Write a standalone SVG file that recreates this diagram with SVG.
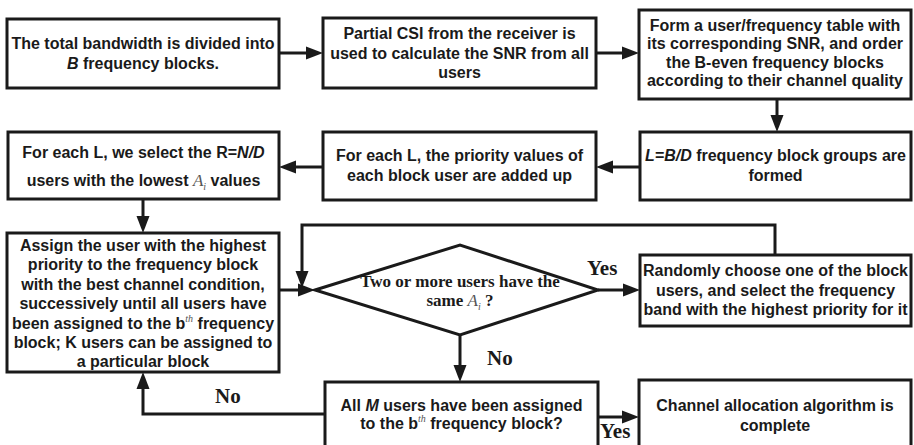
<svg xmlns="http://www.w3.org/2000/svg" width="914" height="445" viewBox="0 0 914 445">
<style>
.box{fill:#fff;stroke:#1a1a1a;stroke-width:3}
.t{font-family:"Liberation Sans",Arial,sans-serif;font-weight:bold;font-size:16px;text-anchor:middle;fill:#1a1a1a}
.s{font-family:"Liberation Serif","Times New Roman",serif;font-weight:bold;font-size:17px;text-anchor:middle;fill:#1a1a1a}
.lbl{font-family:"Liberation Serif","Times New Roman",serif;font-weight:bold;font-size:21px;fill:#1a1a1a}
.m{font-family:"Liberation Serif","Times New Roman",serif;font-style:italic;font-weight:normal;fill:#555}
.c{fill:none;stroke:#1a1a1a;stroke-width:3}
</style>
<defs>
<marker id="ah" markerUnits="userSpaceOnUse" markerWidth="18" markerHeight="16" viewBox="0 -8 18 16" refX="0" refY="0" orient="auto">
<path d="M0,-6.5 L17,0 L0,6.5 Z" fill="#1a1a1a"/>
</marker>
</defs>

<g id="connectors">
<line class="c" x1="279" y1="53" x2="306" y2="53" marker-end="url(#ah)"/>
<line class="c" x1="596" y1="53" x2="622" y2="53" marker-end="url(#ah)"/>
<line class="c" x1="777" y1="99" x2="777" y2="115" marker-end="url(#ah)"/>
<line class="c" x1="640" y1="167" x2="613" y2="167" marker-end="url(#ah)"/>
<line class="c" x1="323" y1="167" x2="296" y2="167" marker-end="url(#ah)"/>
<line class="c" x1="143" y1="199" x2="143" y2="216" marker-end="url(#ah)"/>
<line class="c" x1="279" y1="290" x2="298" y2="290" marker-end="url(#ah)"/>
<line class="c" x1="598" y1="290" x2="623" y2="290" marker-end="url(#ah)"/>
<polyline class="c" points="775,255 775,225 302,225 302,271" marker-end="url(#ah)"/>
<line class="c" x1="460" y1="335" x2="460" y2="365" marker-end="url(#ah)"/>
<polyline class="c" points="325,414 143,414 143,389" marker-end="url(#ah)"/>
<line class="c" x1="598" y1="417" x2="622" y2="417" marker-end="url(#ah)"/>
<text class="lbl" x="587" y="275">Yes</text>
<text class="lbl" x="487" y="365">No</text>
<text class="lbl" x="215" y="403">No</text>
<text class="lbl" x="600" y="438" font-size="20">Yes</text>
</g>

<g id="n1">
<rect class="box" x="7" y="19" width="272" height="69"/>
<text class="t" x="143" y="49">The total bandwidth is divided into</text>
<text class="t" x="143" y="69"><tspan font-style="italic">B</tspan> frequency blocks.</text>
</g>

<g id="n2">
<rect class="box" x="323" y="18" width="273" height="70"/>
<text class="t" x="459.5" y="39">Partial CSI from the receiver is</text>
<text class="t" x="459.5" y="58.5">used to calculate the SNR from all</text>
<text class="t" x="459.5" y="78">users</text>
</g>

<g id="n3">
<rect class="box" x="639" y="10" width="272" height="89"/>
<text class="t" x="775" y="30.5">Form a user/frequency table with</text>
<text class="t" x="775" y="49">its corresponding SNR, and order</text>
<text class="t" x="775" y="67.5">the B-even frequency blocks</text>
<text class="t" x="775" y="86">according to their channel quality</text>
</g>

<g id="n4">
<rect class="box" x="640" y="132" width="271" height="68"/>
<text class="t" x="775.5" y="161"><tspan font-style="italic">L=B/D</tspan> frequency block groups are</text>
<text class="t" x="775.5" y="181">formed</text>
</g>

<g id="n5">
<rect class="box" x="323" y="132" width="273" height="68"/>
<text class="t" x="459.5" y="161">For each L, the priority values of</text>
<text class="t" x="459.5" y="181">each block user are added up</text>
</g>

<g id="n6">
<rect class="box" x="8" y="132" width="271" height="67"/>
<text class="t" x="143.5" y="158">For each L, we select the R=<tspan font-style="italic">N/D</tspan></text>
<text class="t" x="143.5" y="186">users with the lowest <tspan class="m" font-size="17">A</tspan><tspan class="m" font-size="10" dy="4">i</tspan><tspan dy="-4"> values</tspan></text>
</g>

<g id="n7">
<rect class="box" x="7" y="233" width="272" height="139"/>
<text class="t" x="143" y="250.5">Assign the user with the highest</text>
<text class="t" x="143" y="270">priority to the frequency block</text>
<text class="t" x="143" y="289.5">with the best channel condition,</text>
<text class="t" x="143" y="309">successively until all users have</text>
<text class="t" x="143" y="328.5">been assigned to the b<tspan class="m" font-size="10" dy="-7">th</tspan><tspan dy="7"> frequency</tspan></text>
<text class="t" x="143" y="348">block; K users can be assigned to</text>
<text class="t" x="143" y="367">a particular block</text>
</g>

<g id="n8">
<polygon class="box" points="315,290 460,245 598,290 460,335"/>
<text class="s" x="460" y="287">Two or more users have the</text>
<text class="s" x="460" y="306">same <tspan class="m" font-size="17">A</tspan><tspan class="m" font-size="10" dy="4">i</tspan><tspan dy="-4"> ?</tspan></text>
</g>

<g id="n9">
<rect class="box" x="640" y="255" width="271" height="71"/>
<text class="t" x="775.5" y="276">Randomly choose one of the block</text>
<text class="t" x="775.5" y="295.5">users, and select the frequency</text>
<text class="t" x="775.5" y="315">band with the highest priority for it</text>
</g>

<g id="n10">
<rect class="box" x="325" y="382" width="273" height="66"/>
<text class="t" x="461.5" y="411">All <tspan font-style="italic">M</tspan> users have been assigned</text>
<text class="t" x="461.5" y="429">to the b<tspan class="m" font-size="10" dy="-7">th</tspan><tspan dy="7">  frequency block?</tspan></text>
</g>

<g id="n11">
<rect class="box" x="639" y="380" width="272" height="68"/>
<text class="t" x="775" y="411">Channel allocation algorithm is</text>
<text class="t" x="775" y="431">complete</text>
</g>
</svg>
